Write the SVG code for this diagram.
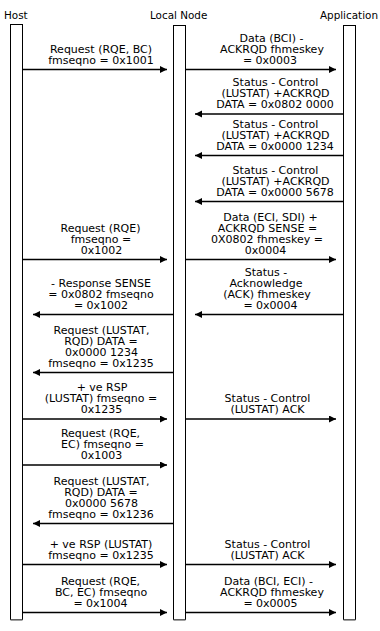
<svg xmlns="http://www.w3.org/2000/svg" width="380" height="631" viewBox="0 0 380 631">
<style>
.hdr{font-family:"DejaVu Sans","Liberation Sans",sans-serif;font-size:10.4px;fill:#000}
.lbl{font-family:"DejaVu Sans","Liberation Sans",sans-serif;font-size:11px;fill:#000;text-anchor:middle}
.bar{fill:#fff;stroke:#000;stroke-width:1}
.shadow{stroke:#808080;stroke-width:1.5}
.msg{stroke:#000;stroke-width:1.6;fill:none;marker-end:url(#ah)}
</style>
<defs>
<marker id="ah" markerUnits="userSpaceOnUse" markerWidth="8" markerHeight="8" refX="7" refY="3.5" orient="auto">
<path d="M0,0 L7,3.5 L0,7 z" fill="#000"/>
</marker>
</defs>
<rect width="380" height="631" fill="#fff"/>
<g id="host">
<text class="hdr" x="4" y="18.5">Host</text>
<rect class="bar" x="10.5" y="24.5" width="12" height="595"/>
<line class="shadow" x1="10.5" y1="620" x2="22.5" y2="620"/>
</g>
<g id="localnode">
<text class="hdr" x="150" y="18.5">Local Node</text>
<rect class="bar" x="173.5" y="25.5" width="12" height="594"/>
<line class="shadow" x1="173.5" y1="620" x2="185.5" y2="620"/>
</g>
<g id="application">
<text class="hdr" x="378" y="18.5" text-anchor="end">Application</text>
<rect class="bar" x="343.5" y="25.5" width="12" height="594"/>
<line class="shadow" x1="343.5" y1="620" x2="355.5" y2="620"/>
</g>
<g id="connectors">
<line class="msg" x1="23" y1="69.5" x2="167" y2="69.5"/>
<line class="msg" x1="186" y1="69.5" x2="336" y2="69.5"/>
<line class="msg" x1="343" y1="114" x2="195" y2="114"/>
<line class="msg" x1="343" y1="155.5" x2="195" y2="155.5"/>
<line class="msg" x1="343" y1="201.5" x2="195" y2="201.5"/>
<line class="msg" x1="23" y1="259.5" x2="167" y2="259.5"/>
<line class="msg" x1="186" y1="259.5" x2="336" y2="259.5"/>
<line class="msg" x1="343" y1="314.5" x2="195" y2="314.5"/>
<line class="msg" x1="173" y1="314.5" x2="33" y2="314.5"/>
<line class="msg" x1="173" y1="372.5" x2="33" y2="372.5"/>
<line class="msg" x1="23" y1="419" x2="167" y2="419"/>
<line class="msg" x1="186" y1="419" x2="336" y2="419"/>
<line class="msg" x1="23" y1="465" x2="167" y2="465"/>
<line class="msg" x1="173" y1="523.5" x2="33" y2="523.5"/>
<line class="msg" x1="23" y1="564.5" x2="167" y2="564.5"/>
<line class="msg" x1="186" y1="564.5" x2="336" y2="564.5"/>
<line class="msg" x1="23" y1="612.5" x2="167" y2="612.5"/>
<line class="msg" x1="186" y1="612.5" x2="336" y2="612.5"/>
</g>
<g id="labels">
<text class="lbl" x="101" y="52.5">Request (RQE, BC)<tspan x="101" dy="11">fmseqno = 0x1001</tspan></text>
<text class="lbl" x="271.5" y="41.5">Data (BCI) -<tspan x="272" dy="11">ACKRQD fhmeskey</tspan><tspan x="270" dy="11">= 0x0003</tspan></text>
<text class="lbl" x="275.5" y="86">Status - Control<tspan x="275.5" dy="11">(LUSTAT) +ACKRQD</tspan><tspan x="275" dy="11">DATA = 0x0802 0000</tspan></text>
<text class="lbl" x="275.5" y="127.5">Status - Control<tspan x="275.5" dy="11">(LUSTAT) +ACKRQD</tspan><tspan x="275" dy="11">DATA = 0x0000 1234</tspan></text>
<text class="lbl" x="275.5" y="173.5">Status - Control<tspan x="275.5" dy="11">(LUSTAT) +ACKRQD</tspan><tspan x="275" dy="11">DATA = 0x0000 5678</tspan></text>
<text class="lbl" x="100.5" y="231.5">Request (RQE)<tspan x="101" dy="11">fmseqno =</tspan><tspan x="101.5" dy="11">0x1002</tspan></text>
<text class="lbl" x="270.5" y="220.5">Data (ECI, SDI) +<tspan x="267.5" dy="11">ACKRQD SENSE =</tspan><tspan x="267" dy="11">0X0802 fhmeskey =</tspan><tspan x="265.5" dy="11">0x0004</tspan></text>
<text class="lbl" x="266" y="275.5">Status -<tspan x="266" dy="11">Acknowledge</tspan><tspan x="267" dy="11">(ACK) fhmeskey</tspan><tspan x="270.5" dy="11">= 0x0004</tspan></text>
<text class="lbl" x="101" y="286.5">- Response SENSE<tspan x="101" dy="11">= 0x0802 fmseqno</tspan><tspan x="101" dy="11">= 0x1002</tspan></text>
<text class="lbl" x="101.5" y="333.5">Request (LUSTAT,<tspan x="101" dy="11">RQD) DATA =</tspan><tspan x="101.5" dy="11">0x0000 1234</tspan><tspan x="101" dy="11">fmseqno = 0x1235</tspan></text>
<text class="lbl" x="102" y="391">+ ve RSP<tspan x="101" dy="11">(LUSTAT) fmseqno =</tspan><tspan x="101.5" dy="11">0x1235</tspan></text>
<text class="lbl" x="267.5" y="402">Status - Control<tspan x="267.5" dy="11">(LUSTAT) ACK</tspan></text>
<text class="lbl" x="100.5" y="437">Request (RQE,<tspan x="102.5" dy="11">EC) fmseqno =</tspan><tspan x="101.5" dy="11">0x1003</tspan></text>
<text class="lbl" x="101.5" y="484.5">Request (LUSTAT,<tspan x="101" dy="11">RQD) DATA =</tspan><tspan x="101.5" dy="11">0x0000 5678</tspan><tspan x="101" dy="11">fmseqno = 0x1236</tspan></text>
<text class="lbl" x="101" y="547.5">+ ve RSP (LUSTAT)<tspan x="101" dy="11">fmseqno = 0x1235</tspan></text>
<text class="lbl" x="267.5" y="547.5">Status - Control<tspan x="267.5" dy="11">(LUSTAT) ACK</tspan></text>
<text class="lbl" x="100.5" y="584.5">Request (RQE,<tspan x="101" dy="11">BC, EC) fmseqno</tspan><tspan x="100.5" dy="11">= 0x1004</tspan></text>
<text class="lbl" x="268.5" y="584.5">Data (BCI, ECI) -<tspan x="272" dy="11">ACKRQD fhmeskey</tspan><tspan x="270.5" dy="11">= 0x0005</tspan></text>
</g>
</svg>
